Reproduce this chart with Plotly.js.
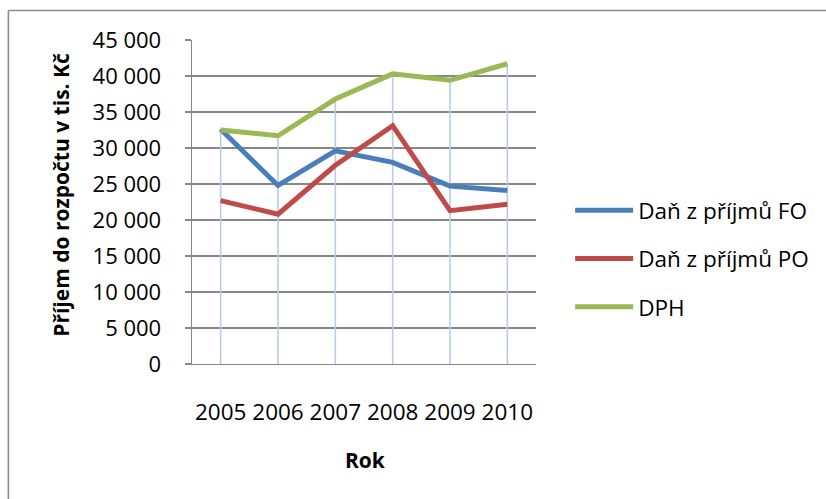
<!DOCTYPE html>
<html>
<head>
<meta charset="utf-8">
<script src="https://cdn.plot.ly/plotly-3.0.1.min.js"></script>
<style>html,body{margin:0;padding:0;background:#fff;}#chart{width:826px;height:499px;}</style>
</head>
<body>
<div id="chart"></div>
<script>
const years = ['2005', '2006', '2007', '2008', '2009', '2010'];
const danFO = [32600, 24800, 29600, 28000, 24700, 24100];
const danPO = [22700, 20800, 27600, 33100, 21300, 22200];
const dph   = [32500, 31700, 36800, 40300, 39400, 41700];
const seriesNames = ['Daň z příjmů FO', 'Daň z příjmů PO', 'DPH'];
const yTicks = [0, 5000, 10000, 15000, 20000, 25000, 30000, 35000, 40000, 45000];

const FONT = '"Open Sans", "Liberation Sans", sans-serif';

// drop lines from the highest point of each category to the axis
const dropX = [], dropY = [];
years.forEach((y, i) => {
  const top = Math.max(danFO[i], danPO[i], dph[i]);
  dropX.push(y, y, null);
  dropY.push(0, top, null);
});

const traces = [
  {x: dropX, y: dropY, type: 'scatter', mode: 'lines', showlegend: false, hoverinfo: 'skip',
   line: {color: '#b9cde5', width: 1.6}},
  {x: years, y: danFO, name: seriesNames[0], legendgroup: 'a', type: 'scatter', mode: 'lines',
   line: {color: '#4a7ebb', width: 5}},
  {x: years, y: danPO, name: seriesNames[1], legendgroup: 'b', type: 'scatter', mode: 'lines',
   line: {color: '#be4b48', width: 5}},
  {x: years, y: dph, name: seriesNames[2], legendgroup: 'c', type: 'scatter', mode: 'lines',
   line: {color: '#98b954', width: 5}}
];

const W = 345.7, H = 323.7, L = 192, T = 40;
const px = v => (v - L) / W;
const py = v => (T + H - v) / H;

const layout = {
  width: 826, height: 499,
  margin: {l: L, r: 826 - L - W, t: T, b: 499 - T - H, pad: 0},
  paper_bgcolor: '#ffffff', plot_bgcolor: '#ffffff',
  separators: ', ',
  font: {family: FONT, size: 22, color: '#000000'},
  showlegend: true,
  xaxis: {
    type: 'category', range: [-0.5, 5.5], fixedrange: true,
    showgrid: false, zeroline: false, showline: true, linecolor: '#868686', linewidth: 1.4,
    ticks: '', ticklabelstandoff: 28,
    tickfont: {family: FONT, size: 22.5, color: '#000'}
  },
  yaxis: {
    range: [0, 45000], tickvals: yTicks, tickformat: ',d', fixedrange: true,
    showgrid: true, gridcolor: '#868686', gridwidth: 1.4, zeroline: false,
    showline: true, linecolor: '#868686', linewidth: 1.4,
    ticks: 'outside', ticklen: 6, tickcolor: '#868686', tickwidth: 1.4, ticklabelstandoff: 19,
    tickfont: {family: FONT, size: 22, color: '#000'}
  },
  legend: {
    x: px(572), y: py(189), xanchor: 'left', yanchor: 'top',
    traceorder: 'grouped', tracegroupgap: 16, itemwidth: 58,
    font: {family: FONT, size: 22.5, color: '#000'},
    bgcolor: 'rgba(0,0,0,0)', borderwidth: 0
  },
  annotations: [
    {text: '<b>Příjem do rozpočtu v tis. Kč</b>', xref: 'paper', yref: 'paper',
     x: px(60), y: py(195), xanchor: 'center', yanchor: 'middle', textangle: -90,
     showarrow: false, font: {family: FONT, size: 21, color: '#000'}},
    {text: '<b>Rok</b>', xref: 'paper', yref: 'paper',
     x: px(366), y: py(460), xanchor: 'center', yanchor: 'middle',
     showarrow: false, font: {family: FONT, size: 21, color: '#000'}}
  ],
  shapes: [
    {type: 'line', xref: 'paper', yref: 'paper', x0: px(7.5), x1: px(7.5), y0: py(10.5), y1: py(520),
     line: {color: '#8c8c8c', width: 1.6}},
    {type: 'line', xref: 'paper', yref: 'paper', x0: px(7.5), x1: px(840), y0: py(10.5), y1: py(10.5),
     line: {color: '#8c8c8c', width: 1.6}}
  ]
};

Plotly.newPlot('chart', traces, layout, {displayModeBar: false, staticPlot: true});
</script>
</body>
</html>
